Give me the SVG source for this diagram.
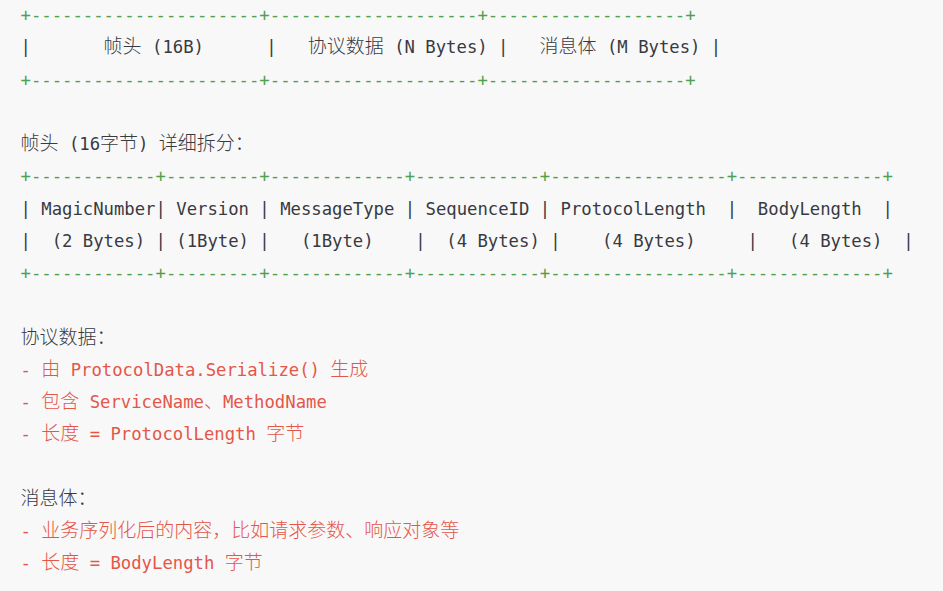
<svg xmlns="http://www.w3.org/2000/svg" width="943" height="591" viewBox="0 0 943 591" xml:space="preserve">
<style>
.t{font-family:"DejaVu Sans Mono","Liberation Mono",monospace;font-size:17.26px;white-space:pre}
.c{font-family:"Noto Sans CJK SC","Noto Sans CJK JP",sans-serif;font-size:19px;font-weight:300}
.g{fill:#50a14f}
.r{fill:#e45649}
.d{fill:#383a42}
</style>
<rect x="0" y="0" width="943" height="591" fill="#f8f8f8"/>
<g id="frame-table">
<text class="t g" x="20.5" y="21">+----------------------+--------------------+-------------------+</text>
<text class="t d" x="20.5" y="53.25">|       <tspan class="c">帧头</tspan> (16B)      |   <tspan class="c">协议数据</tspan> (N Bytes) |   <tspan class="c">消息体</tspan> (M Bytes) |</text>
<text class="t g" x="20.5" y="85.5">+----------------------+--------------------+-------------------+</text>
</g>
<g id="header-table">
<text class="t d" x="20.5" y="150"><tspan class="c">帧头</tspan> (16<tspan class="c">字节</tspan>) <tspan class="c">详细拆分：</tspan></text>
<text class="t g" x="20.5" y="182.25">+------------+---------+-------------+------------+-----------------+--------------+</text>
<text class="t d" x="20.5" y="214.5">| MagicNumber| Version | MessageType | SequenceID | ProtocolLength  |  BodyLength  |</text>
<text class="t d" x="20.5" y="246.75">|  (2 Bytes) | (1Byte) |   (1Byte)    |  (4 Bytes) |    (4 Bytes)     |   (4 Bytes)  |</text>
<text class="t g" x="20.5" y="279">+------------+---------+-------------+------------+-----------------+--------------+</text>
</g>
<g id="protocol-data">
<text class="t d" x="20.5" y="343.5"><tspan class="c">协议数据：</tspan></text>
<text class="t r" x="20.5" y="375.75">- <tspan class="c">由</tspan> ProtocolData.Serialize() <tspan class="c">生成</tspan></text>
<text class="t r" x="20.5" y="408">- <tspan class="c">包含</tspan> ServiceName<tspan class="c">、</tspan>MethodName</text>
<text class="t r" x="20.5" y="440.25">- <tspan class="c">长度</tspan> = ProtocolLength <tspan class="c">字节</tspan></text>
</g>
<g id="message-body">
<text class="t d" x="20.5" y="504.75"><tspan class="c">消息体：</tspan></text>
<text class="t r" x="20.5" y="537">- <tspan class="c">业务序列化后的内容，比如请求参数、响应对象等</tspan></text>
<text class="t r" x="20.5" y="569.25">- <tspan class="c">长度</tspan> = BodyLength <tspan class="c">字节</tspan></text>
</g>
</svg>
